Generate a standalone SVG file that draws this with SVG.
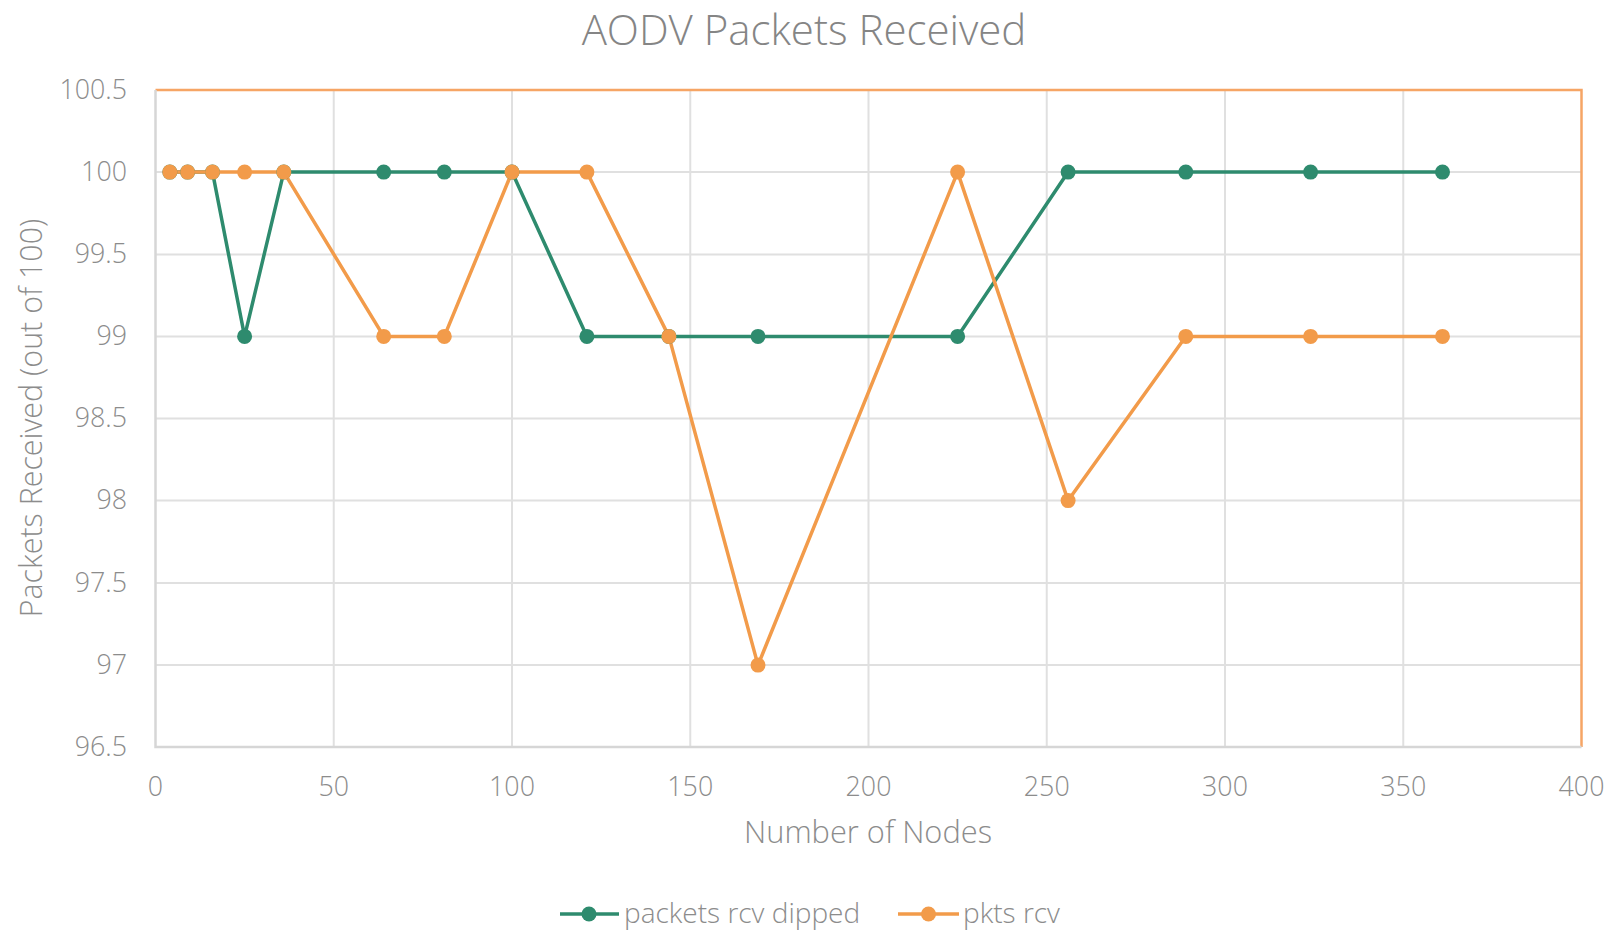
<svg xmlns="http://www.w3.org/2000/svg" width="1611" height="932" viewBox="0 0 1611 932">
<style>
text{font-family:"Open Sans","Noto Sans","Liberation Sans",sans-serif;fill:#8c8c8c;font-weight:300}
.grid line{stroke:#e0e0e0;stroke-width:2}
.ytick{font-size:26.8px;text-anchor:end}
.xtick{font-size:26.8px;text-anchor:middle}
.g{stroke:#2e8b6e;stroke-width:3.5;fill:none;stroke-linejoin:round}
.o{stroke:#f29b4a;stroke-width:3.5;fill:none;stroke-linejoin:round}
.gd circle{fill:#2e8b6e}
.od circle{fill:#f29b4a}
</style>
<rect width="1611" height="932" fill="#ffffff"/>
<text x="804" y="45" font-size="42" text-anchor="middle" style="fill:#858585">AODV Packets Received</text>
<g class="grid">
<line x1="333.75" y1="90" x2="333.75" y2="747"/>
<line x1="512" y1="90" x2="512" y2="747"/>
<line x1="690.25" y1="90" x2="690.25" y2="747"/>
<line x1="868.5" y1="90" x2="868.5" y2="747"/>
<line x1="1046.75" y1="90" x2="1046.75" y2="747"/>
<line x1="1225" y1="90" x2="1225" y2="747"/>
<line x1="1403.25" y1="90" x2="1403.25" y2="747"/>
<line x1="155.5" y1="172.1" x2="1581.5" y2="172.1"/>
<line x1="155.5" y1="254.4" x2="1581.5" y2="254.4"/>
<line x1="155.5" y1="336.4" x2="1581.5" y2="336.4"/>
<line x1="155.5" y1="418.6" x2="1581.5" y2="418.6"/>
<line x1="155.5" y1="500.6" x2="1581.5" y2="500.6"/>
<line x1="155.5" y1="582.9" x2="1581.5" y2="582.9"/>
<line x1="155.5" y1="665.1" x2="1581.5" y2="665.1"/>
</g>
<polyline points="155.5,90 1581.5,90 1581.5,747" fill="none" stroke="#f6a565" stroke-width="2.5"/>
<polyline points="155.5,90 155.5,747 1581.5,747" fill="none" stroke="#d6d6d6" stroke-width="2.5"/>
<g id="y-ticks" class="ytick">
<text x="127" y="99">100.5</text>
<text x="127" y="181">100</text>
<text x="127" y="263">99.5</text>
<text x="127" y="345">99</text>
<text x="127" y="427">98.5</text>
<text x="127" y="509">98</text>
<text x="127" y="592">97.5</text>
<text x="127" y="674">97</text>
<text x="127" y="756">96.5</text>
</g>
<g id="x-ticks" class="xtick">
<text x="155.5" y="796">0</text>
<text x="333.75" y="796">50</text>
<text x="512" y="796">100</text>
<text x="690.25" y="796">150</text>
<text x="868.5" y="796">200</text>
<text x="1046.75" y="796">250</text>
<text x="1225" y="796">300</text>
<text x="1403.25" y="796">350</text>
<text x="1581.5" y="796">400</text>
</g>
<text x="868" y="843" font-size="30.8" text-anchor="middle">Number of Nodes</text>
<text transform="translate(42,418) rotate(-90)" font-size="30.4" text-anchor="middle">Packets Received (out of 100)</text>
<g id="connectors">
<polyline class="g" points="169.8,172.1 187.6,172.1 212.5,172.1 244.6,336.4 283.8,172.1 383.7,172.1 444.3,172.1 512,172.1 586.9,336.4 668.9,336.4 758,336.4 957.6,336.4 1068.1,172.1 1185.8,172.1 1310.6,172.1 1442.5,172.1"/>
<polyline class="o" points="169.8,172.1 187.6,172.1 212.5,172.1 244.6,172.1 283.8,172.1 383.7,336.4 444.3,336.4 512,172.1 586.9,172.1 668.9,336.4 758,665.1 957.6,172.1 1068.1,500.6 1185.8,336.4 1310.6,336.4 1442.5,336.4"/>
</g>
<g id="series-green" class="gd">
<circle cx="169.8" cy="172.1" r="7.5"/>
<circle cx="187.6" cy="172.1" r="7.5"/>
<circle cx="212.5" cy="172.1" r="7.5"/>
<circle cx="244.6" cy="336.4" r="7.5"/>
<circle cx="283.8" cy="172.1" r="7.5"/>
<circle cx="383.7" cy="172.1" r="7.5"/>
<circle cx="444.3" cy="172.1" r="7.5"/>
<circle cx="512" cy="172.1" r="7.5"/>
<circle cx="586.9" cy="336.4" r="7.5"/>
<circle cx="668.9" cy="336.4" r="7.5"/>
<circle cx="758" cy="336.4" r="7.5"/>
<circle cx="957.6" cy="336.4" r="7.5"/>
<circle cx="1068.1" cy="172.1" r="7.5"/>
<circle cx="1185.8" cy="172.1" r="7.5"/>
<circle cx="1310.6" cy="172.1" r="7.5"/>
<circle cx="1442.5" cy="172.1" r="7.5"/>
</g>
<g id="series-orange" class="od">
<circle cx="169.8" cy="172.1" r="7.5"/>
<circle cx="187.6" cy="172.1" r="7.5"/>
<circle cx="212.5" cy="172.1" r="7.5"/>
<circle cx="244.6" cy="172.1" r="7.5"/>
<circle cx="283.8" cy="172.1" r="7.5"/>
<circle cx="383.7" cy="336.4" r="7.5"/>
<circle cx="444.3" cy="336.4" r="7.5"/>
<circle cx="512" cy="172.1" r="7.5"/>
<circle cx="586.9" cy="172.1" r="7.5"/>
<circle cx="668.9" cy="336.4" r="7.5"/>
<circle cx="758" cy="665.1" r="7.5"/>
<circle cx="957.6" cy="172.1" r="7.5"/>
<circle cx="1068.1" cy="500.6" r="7.5"/>
<circle cx="1185.8" cy="336.4" r="7.5"/>
<circle cx="1310.6" cy="336.4" r="7.5"/>
<circle cx="1442.5" cy="336.4" r="7.5"/>
</g>
<g id="legend">
<line x1="560" y1="914" x2="619" y2="914" class="g"/>
<circle cx="589" cy="914" r="7.5" fill="#2e8b6e"/>
<text x="624" y="923" font-size="28">packets rcv dipped</text>
<line x1="898" y1="914" x2="959" y2="914" class="o"/>
<circle cx="928.5" cy="914" r="7.5" fill="#f29b4a"/>
<text x="963" y="923" font-size="28">pkts rcv</text>
</g>
</svg>
